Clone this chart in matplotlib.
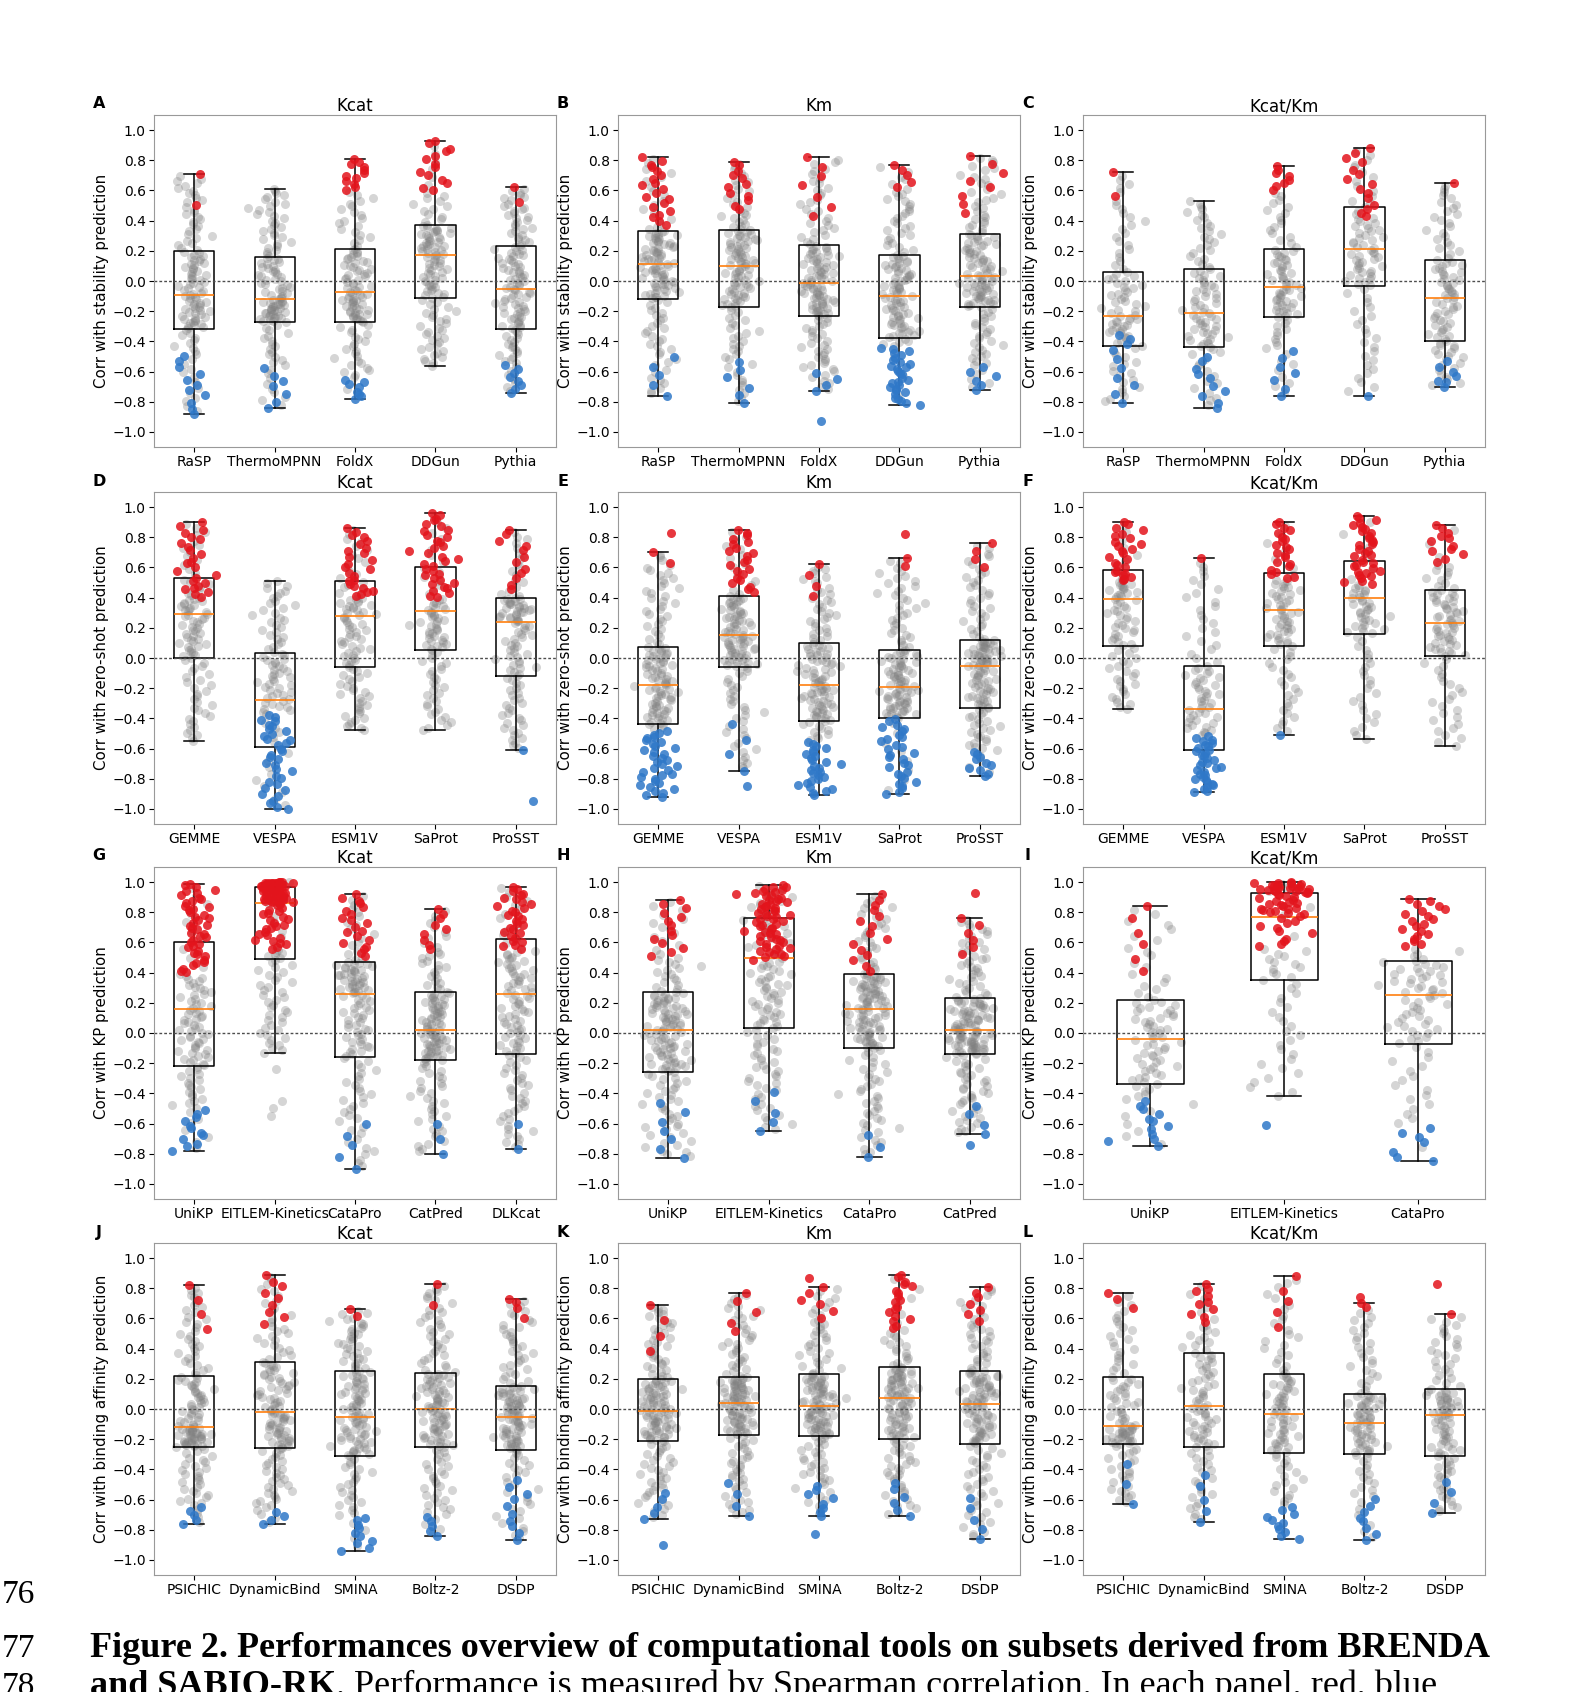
import numpy as np
import matplotlib
matplotlib.use("Agg")
import matplotlib.pyplot as plt

W, H = 1584, 1692

# ---------------- data ----------------
letters = list("ABCDEFGHIJKL")
titles = ["Kcat", "Km", "Kcat/Km"] * 4
ylabels = (["Corr with stability prediction"] * 3
           + ["Corr with zero-shot prediction"] * 3
           + ["Corr with KP prediction"] * 3
           + ["Corr with binding affinity prediction"] * 3)

stab_tools = ["RaSP", "ThermoMPNN", "FoldX", "DDGun", "Pythia"]
zs_tools = ["GEMME", "VESPA", "ESM1V", "SaProt", "ProSST"]
kp_kcat = ["UniKP", "EITLEM-Kinetics", "CataPro", "CatPred", "DLKcat"]
kp_km = ["UniKP", "EITLEM-Kinetics", "CataPro", "CatPred"]
kp_kcatkm = ["UniKP", "EITLEM-Kinetics", "CataPro"]
bind_tools = ["PSICHIC", "DynamicBind", "SMINA", "Boltz-2", "DSDP"]
tools = [stab_tools] * 3 + [zs_tools] * 3 + [kp_kcat, kp_km, kp_kcatkm] + [bind_tools] * 3

# box summaries per tool: (whisker low, q1, median, q3, whisker high)
A_box = [(-0.88, -0.32, -0.09, 0.20, 0.71), (-0.84, -0.27, -0.12, 0.16, 0.61),
         (-0.78, -0.27, -0.07, 0.21, 0.81), (-0.56, -0.11, 0.17, 0.37, 0.93),
         (-0.74, -0.32, -0.05, 0.23, 0.62)]
B_box = [(-0.76, -0.12, 0.11, 0.33, 0.82), (-0.81, -0.17, 0.10, 0.34, 0.79),
         (-0.73, -0.23, -0.01, 0.24, 0.82), (-0.82, -0.38, -0.10, 0.17, 0.77),
         (-0.72, -0.17, 0.03, 0.31, 0.83)]
C_box = [(-0.81, -0.43, -0.23, 0.06, 0.72), (-0.84, -0.44, -0.21, 0.08, 0.53),
         (-0.76, -0.24, -0.04, 0.21, 0.76), (-0.76, -0.03, 0.21, 0.49, 0.88),
         (-0.70, -0.40, -0.11, 0.14, 0.65)]
D_box = [(-0.55, 0.00, 0.29, 0.53, 0.90), (-1.00, -0.59, -0.28, 0.03, 0.51),
         (-0.48, -0.06, 0.28, 0.51, 0.86), (-0.48, 0.05, 0.31, 0.60, 0.96),
         (-0.61, -0.12, 0.24, 0.40, 0.85)]
E_box = [(-0.92, -0.44, -0.18, 0.07, 0.70), (-0.75, -0.06, 0.15, 0.41, 0.85),
         (-0.91, -0.42, -0.18, 0.10, 0.62), (-0.90, -0.40, -0.19, 0.05, 0.66),
         (-0.78, -0.33, -0.05, 0.12, 0.76)]
F_box = [(-0.34, 0.08, 0.39, 0.58, 0.90), (-0.89, -0.61, -0.34, -0.05, 0.66),
         (-0.51, 0.08, 0.32, 0.56, 0.90), (-0.54, 0.16, 0.40, 0.64, 0.94),
         (-0.58, 0.01, 0.23, 0.45, 0.88)]
G_box = [(-0.78, -0.22, 0.16, 0.60, 0.99), (-0.13, 0.49, 0.86, 0.97, 1.00),
         (-0.90, -0.16, 0.26, 0.47, 0.92), (-0.80, -0.18, 0.02, 0.27, 0.82),
         (-0.77, -0.14, 0.26, 0.62, 0.97)]
H_box = [(-0.83, -0.26, 0.02, 0.27, 0.88), (-0.65, 0.03, 0.50, 0.76, 0.98),
         (-0.82, -0.10, 0.16, 0.39, 0.92), (-0.67, -0.14, 0.02, 0.23, 0.76)]
I_box = [(-0.75, -0.34, -0.04, 0.22, 0.84), (-0.42, 0.35, 0.77, 0.93, 1.00),
         (-0.85, -0.07, 0.25, 0.48, 0.89)]
J_box = [(-0.76, -0.25, -0.12, 0.22, 0.82), (-0.76, -0.26, -0.02, 0.31, 0.89),
         (-0.94, -0.31, -0.05, 0.25, 0.66), (-0.84, -0.25, 0.00, 0.24, 0.83),
         (-0.87, -0.27, -0.05, 0.15, 0.73)]
K_box = [(-0.73, -0.21, -0.01, 0.20, 0.69), (-0.71, -0.17, 0.04, 0.21, 0.77),
         (-0.71, -0.18, 0.02, 0.23, 0.81), (-0.71, -0.20, 0.07, 0.28, 0.89),
         (-0.86, -0.23, 0.03, 0.25, 0.81)]
L_box = [(-0.63, -0.23, -0.11, 0.21, 0.77), (-0.75, -0.25, 0.02, 0.37, 0.83),
         (-0.86, -0.29, -0.03, 0.23, 0.88), (-0.87, -0.30, -0.09, 0.10, 0.70),
         (-0.69, -0.31, -0.04, 0.13, 0.63)]
boxes = [A_box, B_box, C_box, D_box, E_box, F_box, G_box, H_box, I_box, J_box, K_box, L_box]

# approximate number of enzymes (points) per tool in each panel
n_points = [130, 150, 100, 120, 150, 100, 150, 180, 100, 150, 160, 110]

# significant points: count and lowest |value| where they start
red_n = [[2, 0, 13, 14, 2], [20, 12, 7, 5, 8], [2, 0, 8, 15, 1],
         [25, 0, 25, 35, 12], [2, 22, 4, 2, 4], [25, 1, 22, 35, 12],
         [45, 85, 20, 9, 30], [14, 60, 15, 6], [6, 55, 22],
         [4, 9, 2, 2, 3], [4, 5, 6, 18, 7], [3, 10, 5, 4, 1]]
red_from = [[0.50, 1, 0.60, 0.60, 0.52], [0.37, 0.47, 0.43, 0.62, 0.45], [0.56, 1, 0.60, 0.42, 0.65],
            [0.40, 1, 0.40, 0.40, 0.45], [0.63, 0.43, 0.40, 0.60, 0.60], [0.51, 0.66, 0.52, 0.49, 0.63],
            [0.40, 0.55, 0.50, 0.55, 0.55], [0.50, 0.48, 0.41, 0.52], [0.39, 0.57, 0.56],
            [0.52, 0.56, 0.61, 0.68, 0.59], [0.37, 0.51, 0.60, 0.53, 0.58], [0.65, 0.57, 0.54, 0.67, 0.62]]
blue_n = [[11, 7, 8, 0, 8], [5, 6, 4, 30, 6], [10, 10, 7, 1, 6],
          [0, 35, 0, 0, 1], [35, 4, 30, 30, 10], [0, 35, 1, 0, 0],
          [12, 0, 5, 3, 2], [7, 5, 3, 4], [12, 0, 7],
          [5, 4, 10, 5, 10], [5, 4, 8, 6, 5], [3, 5, 12, 8, 4]]
blue_from = [[-0.49, -0.57, -0.65, -1, -0.55], [-0.50, -0.52, -0.60, -0.44, -0.56], [-0.35, -0.50, -0.45, -0.76, -0.53],
             [-1, -0.37, -1, -1, -0.60], [-0.48, -0.43, -0.55, -0.40, -0.62], [-1, -0.52, -0.38, -1, -1],
             [-0.50, -1, -0.60, -0.60, -0.60], [-0.46, -0.38, -0.66, -0.48], [-0.44, -1, -0.61],
             [-0.64, -0.67, -0.72, -0.70, -0.46], [-0.55, -0.48, -0.50, -0.48, -0.58], [-0.36, -0.43, -0.64, -0.59, -0.48]]

# points lying beyond the whiskers: (panel, tool index, value, colour)
extra_points = [(1, 2, -0.93, "b"), (3, 4, -0.95, "b"), (4, 0, 0.83, "r"), (4, 3, 0.82, "r"),
                (4, 1, -0.85, "b"), (6, 1, -0.24, "g"), (6, 1, -0.45, "g"), (6, 1, -0.50, "g"),
                (6, 1, -0.55, "g"), (7, 3, 0.93, "r"), (7, 3, -0.74, "b"), (8, 1, -0.61, "b"),
                (9, 4, 0.71, "r"), (10, 0, -0.90, "b"), (10, 2, 0.87, "r"), (10, 2, -0.83, "b"),
                (11, 4, 0.83, "r"), (11, 3, 0.74, "r"), (2, 4, -0.67, "b")]

# ---------------- layout ----------------
col_left = [154, 618, 1083]
row_top = [115, 492, 867, 1243]
ax_w, ax_h = 402, 332

GRAY, RED, BLUE = "#808080", "#e3141c", "#2f78c8"
rng = np.random.default_rng(7)


def fx(x):
    return x / W


def fy(y):
    return 1 - y / H


def pick(idx, k):
    if k <= 0 or len(idx) == 0:
        return np.array([], dtype=int)
    k = min(k, len(idx))
    return idx[np.round(np.linspace(0, len(idx) - 1, k)).astype(int)]


fig = plt.figure(figsize=(W / 100, H / 100), dpi=100)
fig.patch.set_facecolor("white")

for p in range(12):
    r, c = divmod(p, 3)
    left, top = col_left[c], row_top[r]
    ax = fig.add_axes([fx(left), fy(top + ax_h), ax_w / W, ax_h / H])
    names = tools[p]
    stats = []
    for i, (lo, q1, med, q3, hi) in enumerate(boxes[p]):
        pos = i + 1
        n = n_points[p]
        y = np.interp(np.linspace(0, 1, n), [0, .25, .5, .75, 1], [lo, q1, med, q3, hi])
        col = np.array(["g"] * n, dtype=object)
        up = np.where(y >= red_from[p][i])[0]
        up = up[np.argsort(-y[up])]
        col[pick(up, red_n[p][i])] = "r"
        dn = np.where(y <= blue_from[p][i])[0]
        dn = dn[np.argsort(y[dn])]
        col[pick(dn, blue_n[p][i])] = "b"
        ex = [(v, cc) for (pp, ii, v, cc) in extra_points if pp == p and ii == i]
        if ex:
            y = np.concatenate([y, [v for v, _ in ex]])
            col = np.concatenate([col, np.array([cc for _, cc in ex], dtype=object)])
        x = pos + np.clip(rng.normal(0, 0.1, len(y)), -0.33, 0.33)
        g = col == "g"
        ax.scatter(x[g], y[g], s=42, color=GRAY, alpha=0.33, lw=0, zorder=1)
        for code, cl in (("r", RED), ("b", BLUE)):
            m = col == code
            ax.scatter(x[m], y[m], s=42, color=cl, alpha=0.85, lw=0, zorder=3)
        stats.append(dict(whislo=lo, q1=q1, med=med, q3=q3, whishi=hi, fliers=[], label=names[i]))

    ax.bxp(stats, positions=np.arange(1, len(names) + 1), widths=0.5, showfliers=False,
           boxprops=dict(color="black", lw=1.1), whiskerprops=dict(color="black", lw=1.1),
           capprops=dict(color="black", lw=1.1), medianprops=dict(color="#ff7f0e", lw=1.2),
           zorder=2)
    ax.axhline(0, color="0.3", ls=(0, (2, 1.5)), lw=1, zorder=2.5)
    ax.set_xlim(0.5, len(names) + 0.5)
    ax.set_ylim(-1.1, 1.1)
    ax.set_yticks(np.round(np.arange(-1.0, 1.01, 0.2), 1))
    ax.set_xticks(np.arange(1, len(names) + 1))
    ax.set_xticklabels(names)
    ax.tick_params(labelsize=10, length=3.5, width=0.8, pad=2.5)
    for s in ax.spines.values():
        s.set_color("0.6")
    ax.set_title(titles[p], fontsize=12, pad=2.5)
    ax.set_ylabel(ylabels[p], fontsize=10.8, labelpad=2)
    fig.text(fx(left - 55), fy(top - 11), letters[p], fontsize=11.5, fontweight="bold",
             ha="center", va="center")

# ---------------- caption lines ----------------
serif = "Liberation Serif"
fig.text(fx(2), fy(1603), "76", family=serif, fontsize=24, va="baseline")
fig.text(fx(2), fy(1657), "77", family=serif, fontsize=24, va="baseline")
fig.text(fx(2), fy(1695), "78", family=serif, fontsize=24, va="baseline")
fig.text(fx(90), fy(1657),
         "Figure 2. Performances overview of computational tools on subsets derived from BRENDA",
         family=serif, fontsize=26, fontweight="bold", va="baseline")
t_bold = fig.text(fx(90), fy(1695), "and SABIO-RK", family=serif, fontsize=26,
                  fontweight="bold", va="baseline")
fig.canvas.draw()
bb = t_bold.get_window_extent(renderer=fig.canvas.get_renderer())
fig.text(bb.x1 / W, fy(1695),
         ". Performance is measured by Spearman correlation. In each panel, red, blue",
         family=serif, fontsize=26, va="baseline")

fig.savefig("out.png", dpi=100, facecolor="white")
